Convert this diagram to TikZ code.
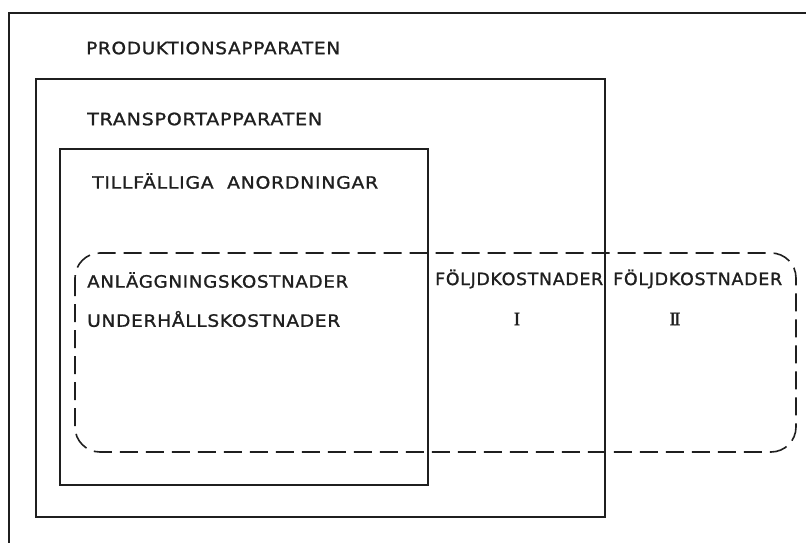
\documentclass[tikz,border=0pt]{standalone}
\usepackage{fontspec}
\usepackage{graphicx}
\setmainfont{DejaVu Sans}
\newfontfamily\letterfont[LetterSpace=4,FakeBold=1.2]{DejaVu Sans}
\newfontfamily\numfont[FakeBold=1.5]{Liberation Serif}
\newcommand{\fitlabel}[2]{\resizebox{#1pt}{\height}{\letterfont #2}}
\begin{document}
\begin{tikzpicture}[x=1pt,y=-1pt,
  frame/.style={draw=black!88,line width=1.6pt},
  dashframe/.style={draw=black!88,line width=1.6pt,dash pattern=on 18pt off 8pt,rounded corners=25pt},
  lbl/.style={anchor=west,inner sep=0pt,font=\fontsize{17}{17}\selectfont,text=black!88},
  num/.style={anchor=center,inner sep=0pt,font=\numfont\fontsize{19}{19}\selectfont,text=black!88}]
\useasboundingbox (0,0) rectangle (806,543);
% outer box (production apparatus)
\coordinate (oTR) at (806,13);
\coordinate (oTL) at (9,13);
\coordinate (oBL) at (9,543);
\draw[frame] (oTR) -- (oTL) -- (oBL);
% transport apparatus
\draw[frame] (36,79) rectangle (605,517);
% temporary arrangements
\draw[frame] (60,149) rectangle (428,485);
% dashed cost region
\draw[dashframe] (75,253) rectangle (796,452);
% labels
\node[lbl] (prod) at (86,48) {\fitlabel{254}{PRODUKTIONSAPPARATEN}};
\node[lbl] (trans) at (87,119) {\fitlabel{235}{TRANSPORTAPPARATEN}};
\node[lbl] (till) at (92,181) {\fitlabel{286}{TILLFÄLLIGA\ \ ANORDNINGAR}};
\node[lbl] (anl) at (87,280) {\fitlabel{261}{ANLÄGGNINGSKOSTNADER}};
\node[lbl] (und) at (87,319) {\fitlabel{253}{UNDERHÅLLSKOSTNADER}};
\node[lbl] (f1) at (435,279) {\fitlabel{168}{FÖLJDKOSTNADER}};
\node[lbl] (f2) at (613,279) {\fitlabel{169}{FÖLJDKOSTNADER}};
\node[num] (n1) at (517,319) {I};
\node[num] (n2) at (675,319) {I\kern-1.8pt I};
\end{tikzpicture}
\end{document}
